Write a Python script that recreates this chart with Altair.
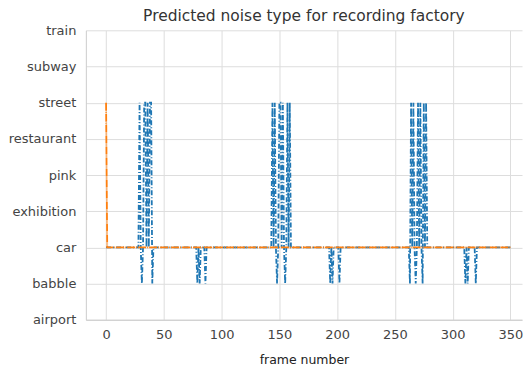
import altair as alt
import pandas as pd

categories = ["train", "subway", "street", "restaurant", "pink", "exhibition", "car", "babble", "airport"]

blue_frames = [0, 28, 29, 30, 31, 32, 33, 34, 35, 36, 37, 38, 39, 40, 41,
               78, 79, 80, 81, 82, 85, 86, 87,
               143, 144, 145, 146, 147, 148, 149, 150, 151, 152, 153, 154, 155, 156, 157, 158, 159, 160,
               193, 194, 195, 196, 197, 201, 202, 203,
               262, 263, 264, 265, 266, 267, 268, 269, 270, 271, 272, 273, 274, 275, 276, 277, 278,
               310, 311, 312, 313, 314, 319, 320, 321, 350]
blue_labels = ["car", "car", "street", "car", "babble", "car", "street", "street", "car", "street", "car", "street", "street", "babble", "car",
               "car", "babble", "car", "babble", "car", "car", "babble", "car",
               "car", "street", "car", "street", "car", "babble", "car", "street", "street", "car", "street", "car", "babble", "car", "street", "car", "street", "car",
               "car", "babble", "car", "babble", "car", "car", "babble", "car",
               "car", "babble", "street", "car", "street", "car", "babble", "car", "street", "car", "street", "car", "babble", "street", "car", "street", "car",
               "car", "babble", "car", "babble", "car", "car", "babble", "car", "car"]

orange_frames = [0, 1, 350]
orange_labels = ["street", "car", "car"]

blue_df = pd.DataFrame({"frame": blue_frames, "label": blue_labels})
orange_df = pd.DataFrame({"frame": orange_frames, "label": orange_labels})

x_enc = alt.X("frame:Q",
              scale=alt.Scale(domain=[-17.5, 360], nice=False, zero=False),
              axis=alt.Axis(title="frame number", values=[0, 50, 100, 150, 200, 250, 300, 350],
                            ticks=False, labelPadding=9, titlePadding=12, grid=True,
                            domain=True))
y_enc = alt.Y("label:O",
              scale=alt.Scale(domain=categories, padding=0),
              axis=alt.Axis(title=None, ticks=False, labelPadding=10, grid=True,
                            minExtent=78, maxExtent=78))

blue = alt.Chart(blue_df).mark_line(color="#1f77b4", strokeWidth=1.8,
                                    strokeDash=[5, 2, 1, 2]).encode(x=x_enc, y=y_enc, order="frame:Q")
orange = alt.Chart(orange_df).mark_line(color="#ff7f0e", strokeWidth=1.8,
                                        strokeDash=[8, 1, 1, 1]).encode(x=x_enc, y=y_enc, order="frame:Q")

chart = alt.layer(blue, orange).properties(
    width=437, height=290,
    title=alt.TitleParams("Predicted noise type for recording factory", fontSize=15.5,
                          font="DejaVu Sans", fontWeight="normal", color="#333333", offset=0),
    padding=0,
).configure_axis(
    labelFont="DejaVu Sans", labelFontSize=13, labelColor="#444444",
    titleFont="DejaVu Sans", titleFontSize=12.5, titleColor="#222222", titleFontWeight="normal",
    gridColor="#dddddd", gridWidth=1, domainColor="#cccccc",
).configure_view(stroke=None)

chart.save("out.html", embed_options={"renderer": "svg", "actions": False})
